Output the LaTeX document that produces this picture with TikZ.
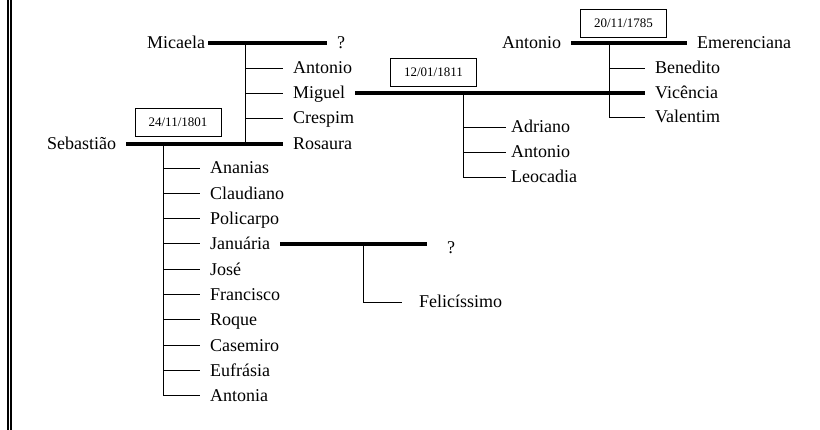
\documentclass[tikz,border=0pt]{standalone}
\usepackage{fontspec}
\setmainfont{Liberation Serif}
\usetikzlibrary{positioning, calc}
\tikzset{
    person/.style={anchor=west, inner xsep=10pt, inner ysep=0pt, text height=12pt, text depth=0pt, font=\fontsize{18}{20}\selectfont},
    datebox/.style={draw, line width=0.8pt, minimum width=86pt, minimum height=28pt, inner sep=0pt, font=\fontsize{13}{15}\selectfont},
    couple/.style={line width=4pt},
    kin/.style={line width=0.9pt},
}
\begin{document}
\begin{tikzpicture}[x=1pt, y=1pt]
    \useasboundingbox (0,0) rectangle (820,-430);
    \draw[line width=1.2pt] (8,0) -- (8,-430);
    \draw[line width=1.2pt] (11,0) -- (11,-430);

    % Micaela and her children
    \node[person] (micaela) at (137,-43) {Micaela};
    \node[person] (q1) at (327,-43) {?};
    \node[person] (antonio1) at (283,-68) {Antonio};
    \node[person, below=25pt of antonio1.west, anchor=west] (miguel) {Miguel};
    \node[person, below=25pt of miguel.west, anchor=west] (crespim) {Crespim};
    \node[person, below=26pt of crespim.west, anchor=west] (rosaura) {Rosaura};
    \coordinate (mc) at (245,-43);

    % Sebastiao + Rosaura
    \node[person] (sebastiao) at (37,-144) {Sebastião};
    \node[datebox] (d1801) at (178,-122.5) {24/11/1801};
    \coordinate (sc) at (163,-144);
    \node[person] (ananias) at (200,-168) {Ananias};
    \node[person, below=25.3pt of ananias.west, anchor=west] (claudiano) {Claudiano};
    \node[person, below=25.3pt of claudiano.west, anchor=west] (policarpo) {Policarpo};
    \node[person, below=25.3pt of policarpo.west, anchor=west] (januaria) {Januária};
    \node[person, below=25.3pt of januaria.west, anchor=west] (jose) {José};
    \node[person, below=25.3pt of jose.west, anchor=west] (francisco) {Francisco};
    \node[person, below=25.3pt of francisco.west, anchor=west] (roque) {Roque};
    \node[person, below=25.3pt of roque.west, anchor=west] (casemiro) {Casemiro};
    \node[person, below=25.3pt of casemiro.west, anchor=west] (eufrasia) {Eufrásia};
    \node[person, below=25.3pt of eufrasia.west, anchor=west] (antonia) {Antonia};

    % Januaria
    \node[person] (q2) at (437,-248) {?};
    \coordinate (jx) at (363,0);
    \coordinate (jc) at (jx |- januaria.east);
    \node[person] (felicissimo) at (409,-302) {Felicíssimo};

    % Antonio + Emerenciana
    \node[person] (antonio2) at (492,-43) {Antonio};
    \node[person] (emerenciana) at (687,-43) {Emerenciana};
    \node[datebox] (d1785) at (623.5,-23.5) {20/11/1785};
    \node[person] (benedito) at (645,-68) {Benedito};
    \node[person, below=25pt of benedito.west, anchor=west] (vicencia) {Vicência};
    \node[person, below=24pt of vicencia.west, anchor=west] (valentim) {Valentim};
    \coordinate (ac) at (609,-43);

    % Miguel + Vicencia
    \node[datebox] (d1811) at (433.5,-72) {12/01/1811};
    \coordinate (mg) at (463,-93);
    \node[person] (adriano) at (501,-127) {Adriano};
    \node[person, below=25pt of adriano.west, anchor=west] (antonio3) {Antonio};
    \node[person, below=25pt of antonio3.west, anchor=west] (leocadia) {Leocadia};

    % descent lines
    \draw[kin] (mc) |- (antonio1.west);
    \draw[kin] (mc) |- (miguel.west);
    \draw[kin] (mc) |- (crespim.west);
    \draw[kin] (mc) -- (mc |- rosaura.west);

    \draw[kin] (sc) |- (ananias.west);
    \draw[kin] (sc) |- (claudiano.west);
    \draw[kin] (sc) |- (policarpo.west);
    \draw[kin] (sc) |- (januaria.west);
    \draw[kin] (sc) |- (jose.west);
    \draw[kin] (sc) |- (francisco.west);
    \draw[kin] (sc) |- (roque.west);
    \draw[kin] (sc) |- (casemiro.west);
    \draw[kin] (sc) |- (eufrasia.west);
    \draw[kin] (sc) |- (antonia.west);

    \draw[kin, shorten >=7pt] (jc) |- (felicissimo.west);

    \draw[kin] (ac) |- (benedito.west);
    \draw[kin] (ac) |- (valentim.west);

    \draw[kin, shorten >=-5pt] (mg) |- (adriano.west);
    \draw[kin, shorten >=-5pt] (mg) |- (antonio3.west);
    \draw[kin, shorten >=-5pt] (mg) |- (leocadia.west);

    % marriages
    \draw[couple, shorten <=-7pt] (micaela.east) -- (q1.west);
    \draw[couple] (sebastiao.east) -- (rosaura.west);
    \draw[couple, shorten >=10pt] (januaria.east) -- (januaria.east -| q2.west);
    \draw[couple] (antonio2.east) -- (emerenciana.west);
    \draw[couple] (miguel.east) -- (vicencia.west);
\end{tikzpicture}
\end{document}
